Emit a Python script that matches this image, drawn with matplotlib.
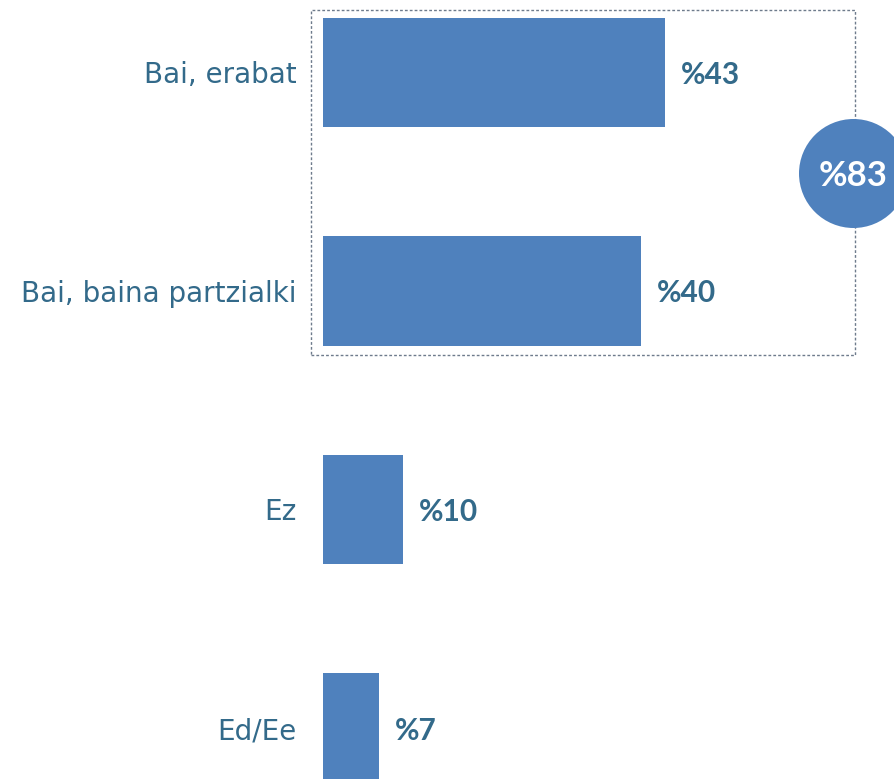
import matplotlib
matplotlib.use("Agg")
import matplotlib.pyplot as plt
from matplotlib.patches import Rectangle, Ellipse

categories = ["Bai, erabat", "Bai, baina partzialki", "Ez", "Ed/Ee"]
values = [43, 40, 10, 7]
value_labels = ["%43", "%40", "%10", "%7"]
total_label = "%83"

W, H = 894, 779
fig = plt.figure(figsize=(W / 100, H / 100), dpi=100)
bar_color = "#4F81BD"
text_color = "#336A8A"
font = ["Lato", "DejaVu Sans"]

ax = fig.add_axes([323 / W, 0, 1 - 323 / W, 1])
ypos = list(range(len(categories)))
ax.barh(ypos, values, height=0.5, color=bar_color)
ax.set_xlim(0, (W - 323) / 7.95)
ax.set_ylim((H - 72.5) / 218.5, -72.5 / 218.5)
ax.set_yticks(ypos)
ax.set_yticklabels(categories, fontsize=20, color=text_color, family=["DejaVu Sans"])
ax.tick_params(axis="y", length=0, pad=19)
ax.set_xticks([])
for s in ax.spines.values():
    s.set_visible(False)

for y, v, lab in zip(ypos, values, value_labels):
    ax.annotate(lab, (v, y), xytext=(16, 0), textcoords="offset pixels",
                va="center_baseline", ha="left", fontsize=21.5, fontweight="bold",
                color=text_color, family=font)

# dashed box around the first two bars
fig.patches.append(Rectangle((311 / W, 1 - 355 / H), (855 - 311) / W, (355 - 10) / H,
                             transform=fig.transFigure, fill=False,
                             edgecolor="#6E7B8C", linestyle=(0, (2, 1.5)), linewidth=1))
# circle with total
r = 54.5
cx, cy = 853.5, 173.5
fig.patches.append(Ellipse((cx / W, 1 - cy / H), 2 * r / W, 2 * r / H,
                           transform=fig.transFigure, facecolor=bar_color, edgecolor="none"))
fig.text(cx / W, 1 - cy / H, total_label, ha="center", va="center_baseline", fontsize=25,
         fontweight="bold", color="white", family=font)

fig.savefig("out.png", dpi=100)
